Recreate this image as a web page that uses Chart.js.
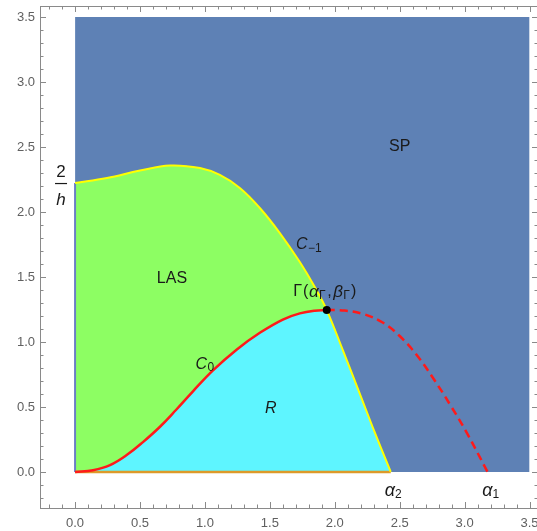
<!DOCTYPE html>
<html><head><meta charset="utf-8">
<script src="https://cdn.jsdelivr.net/npm/chart.js@4/dist/chart.umd.min.js"></script>
<style>html,body{margin:0;padding:0;overflow:hidden;background:#fff}</style>
</head><body>
<div style="width:545px;height:531px;position:relative"><canvas id="c" width="545" height="531"></canvas></div>
<script>
// ---- data ----
const xTickLabels = [0, 0.5, 1, 1.5, 2, 2.5, 3, 3.5];
const yTickLabels = [0, 0.5, 1, 1.5, 2, 2.5, 3, 3.5];
const xRange = [-0.27, 3.565];
const yRange = [-0.277, 3.585];

// SP region: upper edge of the rectangle [0,3.5]x[0,3.5]
const spTop = [{x:0,y:3.5},{x:3.5,y:3.5}];

// C_{-1} (yellow boundary)
const cMinus1 = [
  {x:0,y:2.223},{x:0.246,y:2.262},{x:0.5,y:2.319},{x:0.731,y:2.358},
  {x:0.962,y:2.338},{x:1.115,y:2.285},{x:1.269,y:2.185},{x:1.423,y:2.031},
  {x:1.577,y:1.838},{x:1.731,y:1.615},{x:1.846,y:1.423},{x:1.938,y:1.246},
  {x:2.062,y:0.938},{x:2.185,y:0.623},{x:2.308,y:0.304},{x:2.431,y:0}
];
// C_0 solid part (red)
const c0Solid = [
  {x:0,y:0},{x:0.138,y:0.014},{x:0.269,y:0.053},{x:0.4,y:0.132},
  {x:0.523,y:0.23},{x:0.654,y:0.348},{x:0.777,y:0.477},{x:0.908,y:0.621},
  {x:1.062,y:0.782},{x:1.246,y:0.943},{x:1.423,y:1.071},{x:1.6,y:1.173},
  {x:1.731,y:1.22},{x:1.846,y:1.241},{x:1.938,y:1.246}
];
// C_0 dashed continuation
const c0Dashed = [
  {x:1.938,y:1.246},{x:2.077,y:1.242},{x:2.231,y:1.212},{x:2.369,y:1.15},
  {x:2.5,y:1.046},{x:2.631,y:0.9},{x:2.754,y:0.727},{x:2.885,y:0.523},
  {x:3.015,y:0.304},{x:3.177,y:0}
];
const gammaPoint = [{x:1.938,y:1.246}];
const alpha2 = 2.431;
const twoOverH = 2.223;

// derived
const baseSeg = [{x:0,y:0},{x:alpha2,y:0}];
const leftSeg = [{x:0,y:0},{x:0,y:twoOverH}];

const FONT = "'Liberation Sans', Arial, sans-serif";

function drawRuns(ctx, runs, cx, cy) {
  let w = 0;
  runs.forEach(r => { ctx.font = r.f; w += ctx.measureText(r.t).width + (r.sp||0); });
  let x = cx - w/2;
  ctx.textBaseline = 'middle'; ctx.textAlign = 'left';
  runs.forEach(r => { ctx.font = r.f; ctx.fillText(r.t, x, cy + (r.dy||0)); x += ctx.measureText(r.t).width + (r.sp||0); });
}

const f = (s, it) => (it ? 'italic ' : '') + s + 'px ' + FONT;
const labels = [
  {x:2.5, y:2.5, runs:[{t:'SP', f:f(16)}]},
  {x:0.746, y:1.49, runs:[{t:'LAS', f:f(16)}]},
  {x:1.508, y:0.49, runs:[{t:'R', f:f(16,1)}]},
  {x:1.0, y:0.83, runs:[{t:'C', f:f(16,1), sp:0.5},{t:'0', f:f(12), dy:4}]},
  {x:1.8, y:1.746, runs:[{t:'C', f:f(16,1), sp:0.5},{t:'\u22121', f:f(12), dy:4}]},
  {x:1.923, y:1.385, runs:[{t:'\u0393', f:f(16), sp:1},{t:'(', f:f(16), sp:0.5},{t:'\u03b1', f:f(17,1), sp:0.5},{t:'\u0393', f:f(12), dy:4, sp:1.5},{t:',', f:f(16), sp:1.5},{t:'\u03b2', f:f(17,1), sp:0.5},{t:'\u0393', f:f(12), dy:4, sp:1},{t:')', f:f(16)}]},
  {x:2.45, y:-0.145, runs:[{t:'\u03b1', f:f(18,1)},{t:'2', f:f(12), dy:4}]},
  {x:3.2, y:-0.145, runs:[{t:'\u03b1', f:f(18,1)},{t:'1', f:f(12), dy:4}]}
];

const textPlugin = {
  id: 'texts',
  afterDatasetsDraw(chart) {
    const ctx = chart.ctx, xs = chart.scales.x, ys = chart.scales.y;
    ctx.save();
    ctx.fillStyle = '#1a1a1a';
    labels.forEach(l => drawRuns(ctx, l.runs, xs.getPixelForValue(l.x), ys.getPixelForValue(l.y)));
    // 2/h fraction
    const fx = xs.getPixelForValue(-0.108), fy = ys.getPixelForValue(twoOverH);
    ctx.textAlign = 'center'; ctx.textBaseline = 'middle';
    ctx.font = f(17); ctx.fillText('2', fx, fy - 11);
    ctx.font = f(17,1); ctx.fillText('h', fx, fy + 17);
    ctx.strokeStyle = '#1a1a1a'; ctx.lineWidth = 1.2;
    ctx.beginPath(); ctx.moveTo(fx - 6, fy + 0.5); ctx.lineTo(fx + 6, fy + 0.5); ctx.stroke();
    ctx.restore();
  }
};

const framePlugin = {
  id: 'frame',
  afterDraw(chart) {
    const ctx = chart.ctx, a = chart.chartArea, xs = chart.scales.x, ys = chart.scales.y;
    ctx.save();
    ctx.strokeStyle = '#8a8a8a'; ctx.lineWidth = 1;
    ctx.strokeRect(Math.round(a.left)+0.5, Math.round(a.top)+0.5, Math.round(a.right-a.left), Math.round(a.bottom-a.top));
    ctx.beginPath();
    for (let i = -2; i <= 35; i++) {
      const v = i / 10, L = (i % 5 === 0) ? 6 : 3.5;
      const px = Math.round(xs.getPixelForValue(v)) + 0.5;
      ctx.moveTo(px, a.bottom); ctx.lineTo(px, a.bottom - L);
      ctx.moveTo(px, a.top); ctx.lineTo(px, a.top + L);
      const py = Math.round(ys.getPixelForValue(v)) + 0.5;
      ctx.moveTo(a.left, py); ctx.lineTo(a.left + L, py);
      ctx.moveTo(a.right, py); ctx.lineTo(a.right - L, py);
    }
    ctx.stroke();
    ctx.restore();
  }
};

const line = (data, extra) => Object.assign({
  data, pointRadius: 0, borderWidth: 0, fill: false, tension: 0,
  backgroundColor: 'transparent', borderColor: 'transparent'
}, extra);
const T = 0.4;
const zeroPad = s => { s.paddingTop = 0; s.paddingBottom = 0; s.paddingLeft = 0; s.paddingRight = 0; };

// dataset index 2 is the C_{-1} line; the LAS (green) fill goes from C_0 up to it
const datasets = [
  line(gammaPoint, {order:0, pointRadius:4, pointBackgroundColor:'#000', pointBorderWidth:0, showLine:false}),
  line(c0Solid, {order:1, borderColor:'#ff1a1a', borderWidth:2.5, tension:T}),
  line(cMinus1, {order:2, borderColor:'#ffff00', borderWidth:2, tension:T}),
  line(c0Dashed, {order:3, borderColor:'#ff1a1a', borderWidth:2.5, borderDash:[8,5], tension:T}),
  line(baseSeg, {order:4, borderColor:'#dd9a2a', borderWidth:2.5}),
  line(leftSeg, {order:5, borderColor:'#6a7fc4', borderWidth:2}),
  line(c0Solid, {order:6, fill:{target:2}, backgroundColor:'#8dfe63', tension:T}),
  line(cMinus1, {order:7, fill:'origin', backgroundColor:'#5ef5ff', tension:T}),
  line(spTop, {order:8, fill:'origin', backgroundColor:'#5e81b5'})
];

new Chart(document.getElementById('c'), {
  type: 'line',
  data: { datasets },
  options: {
    responsive: false, animation: false, events: [],
    layout: {padding: {left:0, top:6, right:7, bottom:0}},
    plugins: {legend:{display:false}, tooltip:{enabled:false}},
    scales: {
      x: {
        type:'linear', min:xRange[0], max:xRange[1],
        grid:{display:false, drawTicks:false, tickLength:0}, border:{display:false},
        afterBuildTicks: s => { s.ticks = xTickLabels.map(v => ({value:v})); },
        afterFit: s => { s.height = 23; zeroPad(s); },
        ticks:{padding:8, color:'#606060', font:{family:FONT, size:13}, callback:v => v.toFixed(1), maxRotation:0, autoSkip:false}
      },
      y: {
        type:'linear', min:yRange[0], max:yRange[1],
        grid:{display:false, drawTicks:false, tickLength:0}, border:{display:false},
        afterBuildTicks: s => { s.ticks = yTickLabels.map(v => ({value:v})); },
        afterFit: s => { s.width = 40; zeroPad(s); },
        ticks:{padding:5, color:'#606060', font:{family:FONT, size:13}, callback:v => v.toFixed(1), autoSkip:false}
      }
    }
  },
  plugins: [textPlugin, framePlugin]
});
</script>
</body></html>
